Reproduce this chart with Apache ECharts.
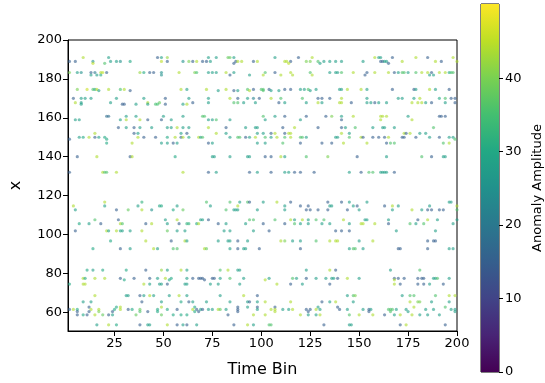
<!DOCTYPE html>
<html>
<head>
<meta charset="utf-8">
<script src="https://cdn.jsdelivr.net/npm/echarts@6/dist/echarts.min.js"></script>
<style>
  html, body { margin: 0; padding: 0; background: #fff; }
  #chart { width: 545px; height: 383px; }
</style>
</head>
<body>
<div id="chart"></div>
<script>
// Anomaly detections: each row is one x level, holding [time bin, amplitude] pairs.
const r191 = [[9,44],[22,28],[47,15],[49,28],[52,42],[73,28],[77,28],[83,38],[84,38],[86,28],[107,28],[119,15],[126,44],[158,44],[160,28],[161,28],[167,15],[179,44],[185,15],[198,44]];
const r189 = [[2,15],[5,15],[14,25],[23,28],[26,28],[28,25],[33,30],[49,45],[52,15],[60,25],[63,40],[65,15],[67,44],[70,15],[72,15],[74,28],[87,15],[88,44],[90,44],[96,15],[98,44],[112,44],[113,44],[115,15],[123,40],[125,40],[129,36],[132,28],[135,28],[138,28],[141,28],[152,28],[161,15],[162,15],[163,28],[164,28],[172,44],[189,44],[192,15],[200,44]];
const r188 = [[14,45],[20,36],[86,15],[114,45],[130,28],[165,15]];
const r183 = [[2,40],[6,28],[8,25],[13,15],[15,20],[18,44],[19,45],[21,15],[38,42],[40,30],[43,15],[45,15],[49,25],[58,44],[66,40],[67,35],[73,28],[75,28],[77,28],[82,44],[86,28],[102,36],[107,15],[115,44],[125,36],[135,28],[138,28],[139,28],[141,36],[147,44],[154,15],[158,44],[165,44],[168,15],[170,28],[172,36],[173,36],[175,28],[179,36],[182,44],[185,44],[187,15],[191,44],[194,44],[196,30],[197,35],[198,36]];
const r182 = [[13,28],[16,28],[18,30],[49,25],[84,15],[94,28],[101,44],[110,44],[116,44],[126,44],[153,15],[186,28],[188,28]];
const r175 = [[6,40],[11,46],[14,36],[15,30],[16,45],[22,44],[28,35],[30,44],[59,44],[62,28],[72,44],[82,44],[93,36],[96,15],[100,36],[101,36],[104,15],[112,15],[115,15],[120,28],[122,28],[124,36],[128,28],[140,28],[141,28],[144,44],[151,44],[154,28],[167,15],[178,15],[179,28],[186,44],[189,28],[196,15]];
const r174 = [[17,28],[33,15],[78,28],[86,15],[88,28],[94,44],[101,36],[105,28],[109,28],[125,28]];
const r170 = [[4,15],[8,28],[10,28],[13,28],[26,28],[40,28],[51,15],[63,28],[73,28],[84,44],[88,15],[93,28],[96,22],[99,15],[105,44],[110,36],[121,36],[129,15],[131,15],[135,15],[141,44],[154,28],[170,28],[172,28],[178,28],[181,44],[191,30],[194,36],[197,15],[199,15]];
const r168 = [[5,44],[8,28],[23,28],[42,44],[48,38],[65,15],[73,28],[86,36],[88,36],[91,28],[97,28],[109,15],[112,28],[123,28],[129,44],[131,28],[140,44],[141,44],[146,15],[154,28],[156,28],[158,15],[160,28],[164,28],[177,44],[180,44],[182,44],[184,28],[187,15],[194,28],[199,15]];
const r167 = [[8,28],[29,15],[30,15],[36,28],[42,28],[46,35],[47,35],[51,15],[60,28],[62,44]];
const r161 = [[21,18],[22,18],[31,28],[36,28],[50,28],[60,28],[70,36],[71,36],[101,36],[107,28],[112,15],[123,15],[133,15],[136,40],[141,28],[147,44],[161,44],[162,44],[164,44],[175,28],[191,15],[192,15],[194,15]];
const r159 = [[5,28],[7,28],[28,28],[31,44],[38,44],[42,15],[49,15],[54,28],[73,28],[75,28],[77,36],[84,28],[102,28],[120,28],[141,15],[161,44],[177,44]];
const r155 = [[1,15],[27,15],[31,28],[35,15],[38,28],[44,28],[52,28],[54,28],[57,44],[60,28],[63,28],[73,44],[82,15],[92,28],[97,28],[98,28],[111,15],[117,44],[129,15],[141,15],[143,28],[148,36],[157,28],[162,28],[163,28],[168,28],[188,36]];
const r152 = [[15,44],[35,15],[37,28],[59,28],[62,15],[77,44],[82,28],[98,28],[101,28],[105,15],[107,44],[112,15],[114,44],[115,44],[141,44],[145,28],[173,44],[174,15],[176,44],[181,28],[184,28]];
const r150 = [[7,28],[9,30],[12,44],[15,15],[17,28],[20,30],[37,44],[40,15],[46,15],[52,30],[56,44],[59,15],[60,44],[63,30],[68,44],[69,28],[70,36],[84,28],[88,36],[89,36],[92,15],[94,28],[97,44],[102,36],[105,28],[108,44],[112,36],[115,44],[120,36],[121,36],[123,28],[138,28],[139,28],[145,36],[151,44],[152,15],[157,15],[160,15],[163,15],[165,44],[172,15],[173,15],[179,15],[186,28],[191,15],[196,28],[198,28]];
const r149 = [[2,15],[21,30],[199,36]];
const r147 = [[21,30],[34,44],[49,28],[52,28],[55,15],[57,28],[73,15],[75,28],[98,28],[102,28],[111,36],[120,15],[131,15],[136,15],[142,44],[154,44],[164,15],[166,36],[168,36],[193,36],[196,44]];
const r140 = [[6,15],[16,44],[33,15],[34,44],[56,30],[75,28],[76,28],[84,28],[93,28],[94,28],[102,15],[105,15],[110,44],[112,28],[123,36],[134,40],[149,15],[164,28],[182,36],[187,15],[193,28],[194,28]];
const r132 = [[2,15],[19,44],[20,36],[21,36],[26,44],[60,44],[73,15],[77,28],[94,15],[98,28],[105,15],[112,28],[114,28],[117,15],[120,15],[127,15],[145,28],[151,15],[155,36],[157,36],[161,28],[162,28],[163,28],[164,28],[168,15]];
const r117 = [[20,44],[39,32],[72,36],[84,36],[89,28],[93,36],[94,15],[101,28],[108,44],[115,15],[134,15],[141,15],[145,28],[154,28],[196,28],[197,28]];
const r115 = [[4,44],[20,28],[37,28],[48,30],[49,30],[57,28],[74,28],[88,44],[112,28],[120,15],[124,15],[135,28],[136,28],[147,28],[149,15],[163,15],[167,44],[170,28],[186,28],[200,44]];
const r113 = [[5,28],[26,15],[32,38],[39,44],[44,25],[55,30],[60,38],[82,36],[86,28],[87,28],[88,28],[98,28],[112,28],[123,15],[125,15],[129,15],[134,15],[144,15],[150,28],[167,28],[177,44],[182,28],[185,15],[187,15],[191,15],[193,15],[200,36]];
const r108 = [[15,36],[27,15],[51,28],[57,44],[69,28],[70,28],[73,15],[94,36],[96,36],[107,36],[115,44],[117,28],[121,44],[124,28],[128,36],[132,36],[142,44],[153,28],[154,28],[165,28],[180,15],[185,44],[190,28],[200,28]];
const r106 = [[7,30],[12,28],[18,15],[28,44],[29,36],[41,15],[44,44],[52,28],[58,15],[62,32],[63,32],[67,30],[68,44],[78,15],[82,28],[92,28],[101,15],[112,15],[117,36],[120,28],[124,28],[131,28],[135,28],[145,28],[151,44],[152,44],[158,44],[165,15],[176,36],[179,28],[183,36],[198,28]];
const r102 = [[5,15],[21,44],[22,28],[26,44],[28,30],[29,28],[33,28],[39,44],[52,38],[57,28],[61,28],[81,28],[84,28],[96,28],[104,15],[138,15],[141,15],[145,15],[169,28],[189,28]];
const r97 = [[23,30],[41,44],[54,15],[61,44],[62,28],[78,28],[83,28],[84,28],[88,15],[93,28],[110,44],[112,40],[116,28],[120,28],[128,36],[135,44],[138,44],[139,44],[150,28],[157,44],[185,15],[188,15],[189,15]];
const r93 = [[14,30],[28,15],[33,28],[45,44],[47,28],[55,36],[57,36],[71,44],[72,38],[84,28],[88,15],[91,28],[92,28],[99,15],[120,15],[145,28],[147,36],[148,36],[152,28],[170,15],[171,15],[185,15],[196,28],[198,28]];
const r82 = [[11,30],[14,28],[19,30],[31,30],[41,15],[49,42],[52,28],[59,44],[62,28],[79,36],[83,44],[88,28],[89,28],[123,28],[135,44],[138,15],[166,28],[181,36]];
const r78 = [[9,44],[10,30],[15,44],[20,44],[28,15],[35,15],[43,15],[47,28],[51,44],[54,30],[62,28],[65,15],[68,15],[69,15],[70,15],[75,15],[76,15],[79,28],[84,36],[91,28],[104,28],[116,36],[118,28],[123,15],[128,28],[133,28],[136,28],[137,28],[139,15],[144,44],[150,28],[168,15],[170,15],[173,15],[180,15],[182,15],[183,15],[188,28],[189,28],[190,36],[196,28]];
const r77 = [[30,30],[53,30],[71,15],[102,44],[168,44]];
const r75 = [[2,30],[9,44],[10,44],[40,44],[43,28],[48,28],[49,28],[52,15],[61,28],[62,28],[74,28],[78,28],[89,28],[108,44],[115,15],[121,28],[135,15],[168,44],[171,15],[180,15],[183,15],[186,28],[193,15]];
const r69 = [[15,44],[31,28],[32,28],[38,15],[40,28],[43,44],[45,28],[53,28],[58,44],[62,28],[79,28],[91,44],[98,15],[144,28],[147,36],[148,40],[172,28],[176,36],[178,36],[189,36],[196,44],[199,44]];
const r65 = [[9,28],[13,28],[39,15],[49,28],[59,30],[63,15],[65,28],[72,28],[84,28],[93,28],[94,15],[98,28],[102,44],[115,44],[131,15],[135,28],[138,44],[147,28],[176,44],[180,40],[181,40],[187,28],[196,28]];
const r63 = [[12,15],[26,30],[28,44],[49,44],[66,30],[88,15],[93,28],[98,15],[107,15],[129,28],[139,15],[178,44],[194,36]];
const r61 = [[2,15],[4,44],[6,30],[13,44],[17,44],[25,30],[28,44],[32,15],[34,30],[38,38],[47,30],[52,30],[57,15],[65,44],[67,15],[69,28],[70,15],[73,28],[75,28],[78,44],[79,38],[82,28],[88,15],[98,28],[105,44],[107,44],[111,28],[114,28],[116,44],[123,15],[125,15],[128,44],[130,28],[140,15],[144,28],[152,28],[155,15],[156,28],[165,36],[166,36],[167,36],[169,28],[174,28],[184,28],[188,28],[197,28],[199,28]];
const r60 = [[6,15],[12,15],[17,40],[24,15],[38,36],[42,15],[47,30],[66,30],[68,15],[88,15],[107,44],[124,15],[155,15],[166,36],[175,28],[199,28]];
const r59 = [[6,15],[9,30],[11,15],[15,44],[19,38],[22,15],[24,28],[36,38],[49,38],[55,30],[59,30],[62,30],[83,15],[96,44],[102,44],[120,44],[124,28],[128,28],[130,44],[145,36],[150,44],[157,44],[163,15],[168,28],[171,44],[177,44],[181,28],[185,28],[191,28]];
const r54 = [[16,28],[22,44],[26,30],[38,15],[42,28],[43,28],[52,44],[57,15],[60,28],[62,15],[67,28],[86,15],[93,44],[96,28],[104,36],[105,36],[132,15],[145,28],[146,28],[171,15],[174,44],[194,15]];

// x level of each row
const rowLevels = [
  [191, r191], [189, r189], [188, r188], [183.3, r183], [182, r182],
  [174.6, r175], [174, r174], [170, r170], [167.8, r168], [167, r167],
  [160.8, r161], [159, r159], [155, r155], [152, r152], [150, r150],
  [149, r149], [147, r147], [140, r140], [132, r132], [116.7, r117],
  [114.7, r115], [112.7, r113], [107.6, r108], [105.6, r106], [101.9, r102],
  [96.7, r97], [92.7, r93], [81.7, r82], [77.5, r78], [76.7, r77],
  [74.5, r75], [68.6, r69], [65.4, r65], [62.7, r63], [61.5, r61],
  [60.4, r60], [58.7, r59], [53.6, r54]
];

const xTicks = [25, 50, 75, 100, 125, 150, 175, 200];
const yTicks = [60, 80, 100, 120, 140, 160, 180, 200];
const cbTicks = [0, 10, 20, 30, 40];
const ampMin = 0;
const ampMax = 50.1;

const viridis = ['#440154', '#482475', '#414487', '#355f8d', '#2a788e', '#21918c',
                 '#22a884', '#44bf70', '#7ad151', '#bddf26', '#fde725'];

const points = [];
rowLevels.forEach(([level, row]) => {
  row.forEach(([t, a]) => points.push([t, level, a]));
});

const FONT = 'DejaVu Sans';
const chart = echarts.init(document.getElementById('chart'), null, { renderer: 'canvas' });

const gradientStops = viridis.map((c, i) => ({ offset: i / (viridis.length - 1), color: c }));

chart.setOption({
  animation: false,
  backgroundColor: '#fff',
  textStyle: { fontFamily: FONT },
  grid: [
    { left: 61, top: 40, width: 396, height: 297, show: true, borderColor: '#000', borderWidth: 1, backgroundColor: 'transparent' },
    { left: 481, top: 4, width: 18, height: 368, show: true, borderColor: '#000', borderWidth: 1, backgroundColor: 'transparent' }
  ],
  xAxis: [
    {
      type: 'value', gridIndex: 0, min: 1.25, max: 200,
      name: 'Time Bin', nameLocation: 'middle', nameGap: 31,
      nameTextStyle: { fontSize: 16, color: '#000', fontFamily: FONT },
      axisLine: { show: true, lineStyle: { color: '#000', width: 1 } },
      axisTick: { show: true, length: 5, lineStyle: { color: '#000' }, customValues: xTicks },
      axisLabel: { customValues: xTicks, fontSize: 13, color: '#000', margin: 6, fontFamily: FONT },
      splitLine: { show: false }
    },
    { type: 'category', gridIndex: 1, data: [''], show: false, boundaryGap: true }
  ],
  yAxis: [
    {
      type: 'value', gridIndex: 0, min: 50.4, max: 200,
      name: 'x', nameLocation: 'middle', nameGap: 44, nameRotate: 90,
      nameTextStyle: { fontSize: 16, color: '#000', fontFamily: FONT },
      axisLine: { show: true, lineStyle: { color: '#000', width: 1 } },
      axisTick: { show: true, length: 5, lineStyle: { color: '#000' }, customValues: yTicks },
      axisLabel: { customValues: yTicks, fontSize: 13, color: '#000', margin: 6, fontFamily: FONT },
      splitLine: { show: false }
    },
    {
      type: 'value', gridIndex: 1, position: 'right', min: ampMin, max: ampMax,
      name: 'Anomaly Amplitude', nameLocation: 'middle', nameGap: 32, nameRotate: 90,
      nameTextStyle: { fontSize: 13, color: '#000', fontFamily: FONT },
      axisLine: { show: false },
      axisTick: { show: true, length: 4, lineStyle: { color: '#000' }, customValues: cbTicks },
      axisLabel: { customValues: cbTicks, fontSize: 13, color: '#000', margin: 6, fontFamily: FONT },
      splitLine: { show: false }
    }
  ],
  visualMap: {
    show: false, type: 'continuous', min: ampMin, max: ampMax, dimension: 2,
    seriesIndex: 0, inRange: { color: viridis }
  },
  series: [
    {
      type: 'scatter', xAxisIndex: 0, yAxisIndex: 0, data: points,
      symbol: 'circle', symbolSize: 3.2,
      itemStyle: { opacity: 0.6 }, silent: true
    },
    {
      type: 'bar', xAxisIndex: 1, yAxisIndex: 1, data: [ampMax],
      barWidth: '100%', silent: true,
      itemStyle: { color: new echarts.graphic.LinearGradient(0, 1, 0, 0, gradientStops) }
    }
  ]
});
</script>
</body>
</html>
